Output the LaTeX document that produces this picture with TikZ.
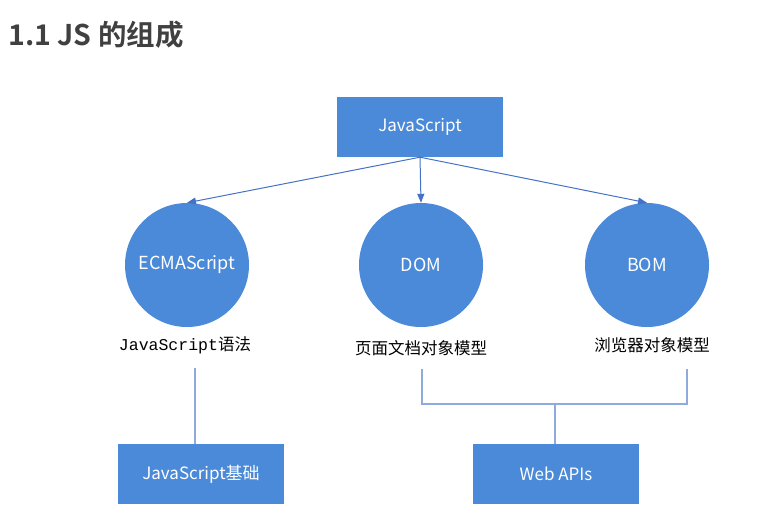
\documentclass[tikz,border=0pt]{standalone}
\usepackage{fontspec}
\usetikzlibrary{positioning}
\usetikzlibrary{arrows.meta}
\newfontfamily\cjk{Noto Sans CJK SC}
\newfontfamily\cjkbold{Noto Sans CJK SC Bold}
\newfontfamily\codefont{Liberation Mono}
\definecolor{partColor}{RGB}{74,138,216}
\definecolor{arrowColor}{RGB}{68,114,196}
\definecolor{bracketColor}{RGB}{143,170,220}
\definecolor{titleColor}{RGB}{64,64,64}

\begin{document}
\begin{tikzpicture}[x=1pt,y=-1pt]

            \tikzstyle{partBox} = [shape = rectangle, fill=partColor, text=white, minimum width=166pt, minimum height=60pt, inner sep=0pt, font=\cjk\fontsize{17}{19}\selectfont];
            \tikzstyle{partCircle} = [shape = circle, fill=partColor, text=white, minimum size=124pt, inner sep=0pt, font=\cjk\fontsize{18}{20}\selectfont];
            \tikzstyle{partLabel} = [text=black, inner sep=0pt, font=\cjk\fontsize{16.5}{18}\selectfont];
            \tikzstyle{pointEdge} = [arrowColor, line width=1pt, -{Triangle[length=9pt,width=7pt]}];
            \tikzstyle{plainEdge} = [bracketColor, line width=1.5pt];

            \useasboundingbox (0,0) rectangle (783,517);

            \node[anchor=west, inner sep=0pt, text=titleColor, font=\cjkbold\fontsize{28.5}{31}\selectfont] (title) at (8,35) {1.1 JS 的组成};

            \node[partBox] (js) at (420,127) {JavaScript};

            \node[partCircle] (ecma) at (187,265) {ECMAScript};
            \node[partCircle] (dom)  at (421,265) {DOM};
            \node[partCircle] (bom)  at (647,265) {BOM};

            \node[partLabel] (ecmaLabel) at (185,345) {{\codefont JavaScript}语法};
            \node[partLabel] (domLabel)  at (421,348) {页面文档对象模型};
            \node[partLabel] (bomLabel)  at (652,345) {浏览器对象模型};

            \node[partBox] (base) at (201,474) {JavaScript基础};
            \node[partBox] (apis) at (556,474) {Web APIs};

            \coordinate (ecmaEnd) at (195,368);
            \coordinate (domEnd)  at (422,369);
            \coordinate (bomEnd)  at (687,369);
            \coordinate (join)    at (555,404);

            \draw[pointEdge] (js.south) -- (ecma.north);
            \draw[pointEdge] (js.south) -- (dom.north);
            \draw[pointEdge] (js.south) -- (bom.north);

            \draw[plainEdge] (ecmaEnd) -- (ecmaEnd |- base.north);
            \draw[plainEdge] (domEnd) -- (domEnd |- join) -| (bomEnd);
            \draw[plainEdge] (join) -- (join |- apis.north);
          \end{tikzpicture}
\end{document}
